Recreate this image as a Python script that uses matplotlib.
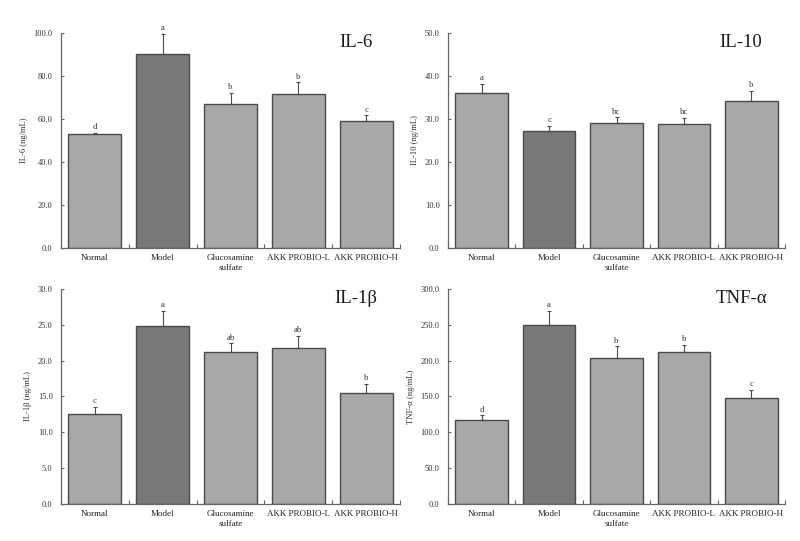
import matplotlib
matplotlib.use("Agg")
import matplotlib.pyplot as plt
import numpy as np

plt.rcParams['font.family'] = ['Liberation Serif', 'DejaVu Serif']

groups = ["Normal", "Model", "Glucosamine\nsulfate", "AKK PROBIO-L", "AKK PROBIO-H"]

il6 = [53.0, 90.2, 67.0, 71.6, 58.9]
il6_err = [0.5, 9.3, 5.1, 5.5, 2.8]
il6_sig = ["d", "a", "b", "b", "c"]

il10 = [36.0, 27.3, 29.0, 28.8, 34.3]
il10_err = [2.1, 1.1, 1.4, 1.4, 2.2]
il10_sig = ["a", "c", "bc", "bc", "b"]

il1b = [12.6, 24.9, 21.2, 21.8, 15.5]
il1b_err = [1.0, 2.1, 1.2, 1.7, 1.3]
il1b_sig = ["c", "a", "ab", "ab", "b"]

tnf = [117.0, 249.4, 204.4, 211.8, 148.6]
tnf_err = [6.5, 20.0, 15.6, 10.7, 10.2]
tnf_sig = ["d", "a", "b", "b", "c"]

panels = [
    ("IL-6", "IL-6 (ng/mL)", il6, il6_err, il6_sig, 100, 20, [0.07625, 0.5416, 0.42375, 0.3974]),
    ("IL-10", "IL-10 (ng/mL)", il10, il10_err, il10_sig, 50, 10, [0.56, 0.5416, 0.42125, 0.3974]),
    ("IL-1β", "IL-1β (ng/mL)", il1b, il1b_err, il1b_sig, 30, 5, [0.07625, 0.0684, 0.42375, 0.3974]),
    ("TNF-α", "TNF-α (ng/mL)", tnf, tnf_err, tnf_sig, 300, 50, [0.56, 0.0684, 0.42125, 0.3974]),
]

light = "#a8a8a8"
dark = "#787878"
edge = "#4a4a4a"
axcol = "#666666"

fig = plt.figure(figsize=(8, 5.41), dpi=100)

for title, ylab, vals, errs, sig, ymax, step, pos in panels:
    ax = fig.add_axes(pos)
    x = np.arange(len(groups))
    colors = [light, dark, light, light, light]
    ax.bar(x, vals, width=0.78, color=colors, edgecolor=edge, linewidth=1.0, zorder=2)
    ax.errorbar(x, vals, yerr=[np.zeros(len(vals)), errs], fmt="none",
                ecolor=edge, elinewidth=0.8, capsize=1.5, capthick=0.8, zorder=3)
    for xi, v, e, s in zip(x, vals, errs, sig):
        ax.text(xi, v + e + ymax * 0.008, s, ha="center", va="bottom",
                fontsize=6.3, color="#333333")
    ax.set_xlim(-0.5, len(groups) - 0.5)
    ax.set_ylim(0, ymax)
    ticks = np.arange(0, ymax + step / 2, step)
    ax.set_yticks(ticks)
    ax.set_yticklabels(["%.1f" % t for t in ticks], fontsize=6, color="#333333")
    ax.set_xticks(x)
    ax.set_xticklabels(groups, fontsize=6.5, color="#222222", linespacing=1.35)
    ax.tick_params(axis="x", length=0, pad=4.5)
    ax.set_xticks(np.arange(-0.5, len(groups), 1), minor=True)
    ax.tick_params(axis="x", which="minor", direction="in", length=3, color=axcol, width=0.8)
    ax.tick_params(axis="y", direction="in", length=2.5, color=axcol, width=0.8, pad=6)
    for sp in ["top", "right"]:
        ax.spines[sp].set_visible(False)
    for sp in ["left", "bottom"]:
        ax.spines[sp].set_color(axcol)
        ax.spines[sp].set_linewidth(0.9)
    ax.set_ylabel(ylab, fontsize=6.2, color="#333333", labelpad=4)
    ax.text(0.87, 0.955, title, transform=ax.transAxes, ha="center", va="center",
            fontsize=13.5, color="#1a1a1a")

fig.savefig("out.png", dpi=100, facecolor="white")
